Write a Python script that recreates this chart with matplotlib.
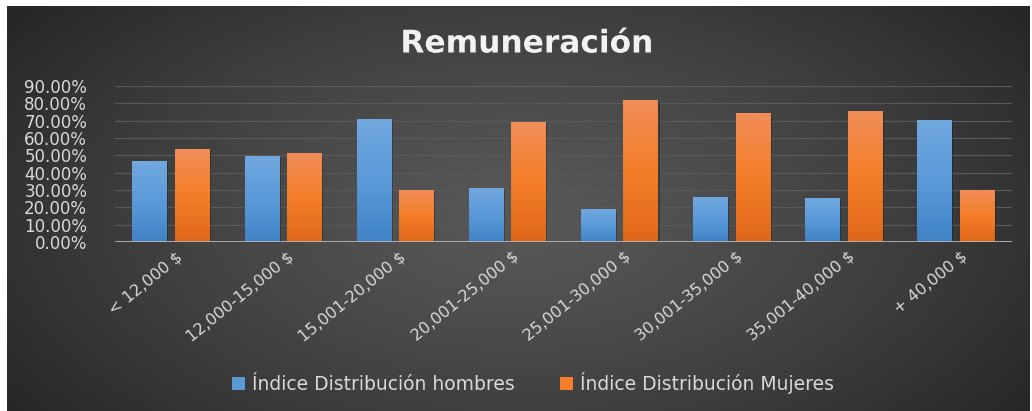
import numpy as np
import matplotlib
matplotlib.use("Agg")
import matplotlib.pyplot as plt
from matplotlib.ticker import PercentFormatter
from matplotlib.colors import LinearSegmentedColormap
import matplotlib.patheffects as pe
import matplotlib.transforms as mtransforms

# datos
categorias = ['< 12,000 $', '12,000-15,000 $', '15,001-20,000 $', '20,001-25,000 $',
              '25,001-30,000 $', '30,001-35,000 $', '35,001-40,000 $', '+ 40,000 $']
hombres = [0.466, 0.492, 0.705, 0.308, 0.185, 0.258, 0.250, 0.700]
mujeres = [0.534, 0.508, 0.295, 0.692, 0.815, 0.742, 0.750, 0.300]
yticks = [0.0, 0.1, 0.2, 0.3, 0.4, 0.5, 0.6, 0.7, 0.8, 0.9]

W, H = 1032, 411
fig = plt.figure(figsize=(W / 100, H / 100), dpi=100, facecolor='white')

# fondo con degradado radial
bg = fig.add_axes([7 / W, 0, (1030 - 7) / W, (H - 6) / H], zorder=-1)
gx, gy = np.meshgrid(np.linspace(7, 1030, 400), np.linspace(6, 411, 200))
r = np.sqrt(((gx - 520) / 620) ** 2 + ((gy - 215) / 330) ** 2)
r = np.clip(r, 0, 1)
val = 0.345 - (0.345 - 0.155) * r ** 1.3
bg.imshow(np.dstack([val, val, val]), aspect='auto', extent=[0, 1, 0, 1])
bg.axis('off')

ax = fig.add_axes([115 / W, (H - 242) / H, (1012 - 115) / W, (242 - 86) / H])
ax.set_facecolor('none')

x = np.arange(len(categorias))
ancho = 0.31
desp = 0.19

barras_h = ax.bar(x - desp, hombres, ancho, color='#5b9bd5', zorder=3,
                  label='Índice Distribución hombres')
barras_m = ax.bar(x + desp, mujeres, ancho, color='#f47e2a', zorder=3,
                  label='Índice Distribución Mujeres')

# degradado vertical dentro de cada barra
cmap_azul = LinearSegmentedColormap.from_list('azul', ['#4083c6', '#5a9ad8', '#70a8de'])
cmap_naranja = LinearSegmentedColormap.from_list('naranja', ['#e0671a', '#f47e28', '#f08d58'])
grad = np.linspace(0, 1, 100).reshape(-1, 1)
for barras, cm in [(barras_h, cmap_azul), (barras_m, cmap_naranja)]:
    for b in barras:
        x0, w, h = b.get_x(), b.get_width(), b.get_height()
        # sombra suave
        ax.bar(x0 + w / 2 + 0.012, h, w, bottom=-0.006, color='black', alpha=0.25, zorder=2)
        ax.imshow(grad, extent=[x0, x0 + w, 0, h], origin='lower', cmap=cm,
                  aspect='auto', zorder=4)

ax.set_xlim(-0.5, len(categorias) - 0.5)
ax.set_ylim(0, 0.9)
ax.set_yticks(yticks)
ax.yaxis.set_major_formatter(PercentFormatter(1, decimals=2))
ax.grid(axis='y', color='#595959', linewidth=0.9, zorder=0)
ax.axhline(0, color='#b4b4b4', linewidth=2, zorder=5)
for s in ax.spines.values():
    s.set_visible(False)

ax.tick_params(axis='y', length=0, pad=20, labelsize=12, labelcolor='#d9d9d9')
ax.tick_params(axis='x', length=0, pad=9, labelsize=11.5, labelcolor='#d9d9d9')
ax.set_xticks(x)
ax.set_xticklabels(categorias, rotation=39, ha='right', rotation_mode='anchor', va='center')
offset = mtransforms.ScaledTranslation(9 / 100, 0, fig.dpi_scale_trans)
for lab in ax.get_xticklabels():
    lab.set_transform(lab.get_transform() + offset)

fig.text(527 / W, (H - 44) / H, 'Remuneración', ha='center', va='center',
         fontsize=22.5, fontweight='bold', color='#f2f2f2',
         path_effects=[pe.withSimplePatchShadow(offset=(1.5, -1.5), alpha=0.5)])

leg = fig.legend(handles=[barras_h, barras_m], loc='center', bbox_to_anchor=(533 / W, (H - 383) / H),
                 ncol=2, frameon=False, fontsize=13.5, labelcolor='#d9d9d9',
                 handlelength=0.7, handleheight=0.7, handletextpad=0.4, columnspacing=2.4)

fig.savefig('out.png', dpi=100, facecolor=fig.get_facecolor())
